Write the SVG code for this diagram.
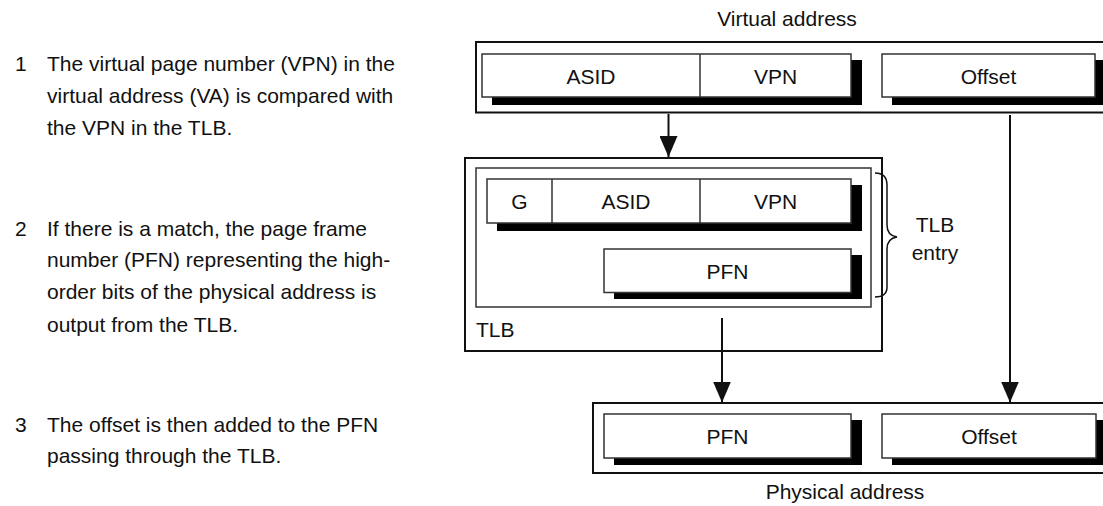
<svg xmlns="http://www.w3.org/2000/svg" width="1103" height="506" viewBox="0 0 1103 506">
<style>
text{font-family:"Liberation Sans",Arial,Helvetica,sans-serif;font-size:21px;fill:#111}
.c{text-anchor:middle}
.outer{fill:#fff;stroke:#111;stroke-width:2}
.box{fill:#fff;stroke:#333;stroke-width:1.5}
.div{stroke:#333;stroke-width:1.5}
.sh{fill:#000}
.conn{stroke:#111;stroke-width:2;fill:none}
.brace{stroke:#111;stroke-width:1.5;fill:none}
</style>
<defs>
<marker id="ah" viewBox="0 0 21 18" refX="21" refY="9" markerWidth="21" markerHeight="18" markerUnits="userSpaceOnUse" orient="auto">
<path d="M0,0 L21,9 L0,18 z" fill="#111"/>
</marker>
</defs>
<rect width="1103" height="506" fill="#fff"/>
<g id="notes">
<text x="15" y="71">1</text>
<text x="47" y="71">The virtual page number (VPN) in the</text>
<text x="47" y="103">virtual address (VA) is compared with</text>
<text x="47" y="135">the VPN in the TLB.</text>
<text x="15" y="236">2</text>
<text x="47" y="236">If there is a match, the page frame</text>
<text x="47" y="267">number (PFN) representing the high-</text>
<text x="47" y="299">order bits of the physical address is</text>
<text x="47" y="332">output from the TLB.</text>
<text x="15" y="432">3</text>
<text x="47" y="432">The offset is then added to the PFN</text>
<text x="47" y="463">passing through the TLB.</text>
</g>
<g id="virtual-address">
<text class="c" x="787" y="26">Virtual address</text>
<rect class="outer" x="476" y="42" width="700" height="70.5"/>
<rect class="sh" x="492" y="60" width="370" height="45"/>
<rect class="box" x="482" y="54" width="369" height="43"/>
<line class="div" x1="700" y1="54" x2="700" y2="97"/>
<text class="c" x="591" y="84">ASID</text>
<text class="c" x="775.5" y="84">VPN</text>
<rect class="sh" x="892" y="60" width="214" height="45"/>
<rect class="box" x="882" y="54" width="213" height="43"/>
<text class="c" x="988.5" y="84">Offset</text>
</g>
<g id="tlb">
<rect class="outer" x="465" y="158" width="417" height="193"/>
<rect class="box" x="476" y="168" width="395" height="139"/>
<rect class="sh" x="497" y="185" width="365" height="46"/>
<rect class="box" x="487" y="179" width="364" height="44"/>
<line class="div" x1="552" y1="179" x2="552" y2="223"/>
<line class="div" x1="700" y1="179" x2="700" y2="223"/>
<text class="c" x="519.5" y="209">G</text>
<text class="c" x="626" y="209">ASID</text>
<text class="c" x="775.5" y="209">VPN</text>
<rect class="sh" x="614" y="255" width="248" height="44"/>
<rect class="box" x="604" y="249" width="247" height="43.5"/>
<text class="c" x="727.5" y="279">PFN</text>
<text x="476" y="337">TLB</text>
</g>
<g id="tlb-entry">
<path class="brace" d="M875,173 C883,173 887,177 887,185 L887,225 C887,232 890,236 897,237 C890,238 887,242 887,249 L887,287 C887,294 883,297 875,297"/>
<text class="c" x="935" y="232">TLB</text>
<text class="c" x="935" y="260">entry</text>
</g>
<g id="physical-address">
<rect class="outer" x="593" y="403" width="600" height="70"/>
<rect class="sh" x="614" y="420" width="248" height="45"/>
<rect class="box" x="604" y="414" width="247" height="44"/>
<text class="c" x="727.5" y="444">PFN</text>
<rect class="sh" x="892" y="420" width="215" height="45"/>
<rect class="box" x="882" y="414" width="214" height="44"/>
<text class="c" x="989" y="444">Offset</text>
<text class="c" x="845" y="499">Physical address</text>
</g>
<g id="connectors">
<line class="conn" x1="668.5" y1="114" x2="668.5" y2="157" marker-end="url(#ah)"/>
<line class="conn" x1="722" y1="318" x2="722" y2="402.5" marker-end="url(#ah)"/>
<line class="conn" x1="1010" y1="115" x2="1010" y2="402.5" marker-end="url(#ah)"/>
</g>
</svg>
